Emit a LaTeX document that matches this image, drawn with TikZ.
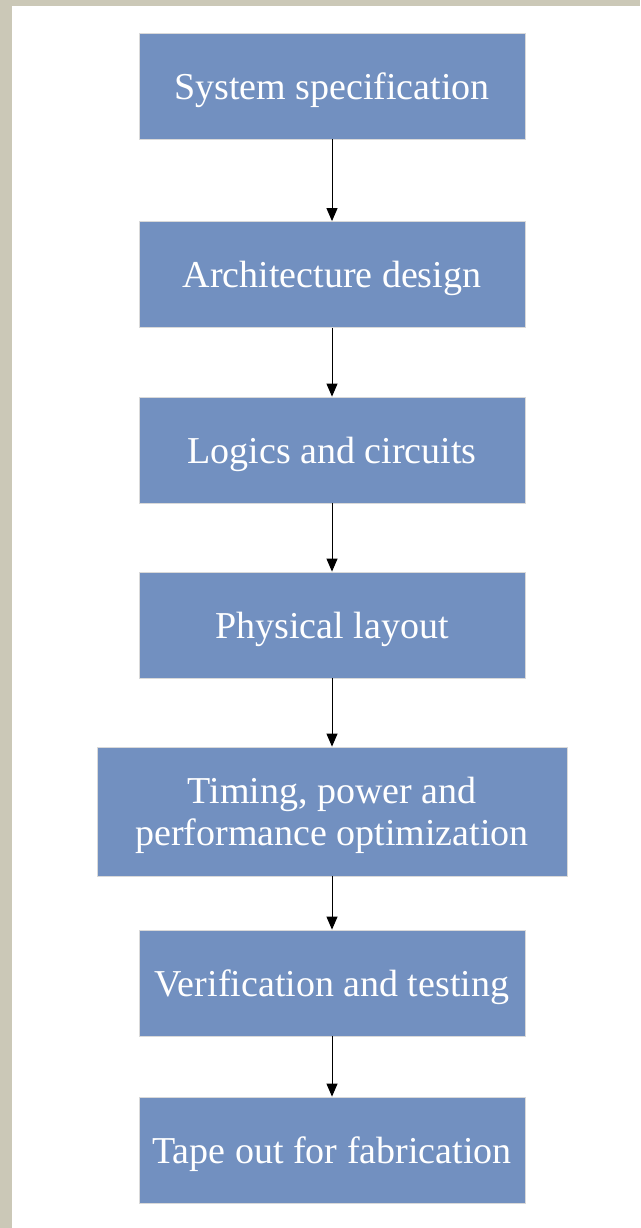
\documentclass[tikz,border=0pt]{standalone}
\usepackage{fontspec}
\setmainfont{Liberation Serif}
\usepackage{xcolor}
\usepackage{tikz}
\usetikzlibrary{positioning,arrows.meta}

\definecolor{stageblue}{HTML}{7290C0}
\definecolor{pageframe}{HTML}{CBC8B7}

\begin{document}
\begin{tikzpicture}[x=1pt, y=-1pt,
		stage/.style={draw=black!15, line width=0.8pt, fill=stageblue, text=white, minimum width=386pt, minimum height=106pt, inner sep=0pt, text depth=0pt, align=center, font=\fontsize{38}{42}\selectfont},
		arr/.style={-{Triangle[width=11pt, length=13pt]}, line width=1pt}
		]
		
		% ==========================================
		% Page frame
		% ==========================================
		\fill[pageframe] (0,0) rectangle (640,1228);
		\fill[white] (12,6) rectangle (640,1228);
		\useasboundingbox (0,0) rectangle (640,1228);
		
		% ==========================================
		% Design flow stages
		% ==========================================
		\node[stage] (spec) at (332,86) {System specification};
		\node[stage] (arch) at (332,274.5) {Architecture design};
		\node[stage] (logic) at (332,450) {Logics and circuits};
		\node[stage] (layout) at (332,625) {Physical layout};
		\node[stage, minimum width=470pt, minimum height=129pt] (optim) at (332,811.5) {Timing, power and\\performance optimization};
		\node[stage] (verif) at (332,983) {Verification and testing};
		\node[stage] (tapeout) at (332,1150) {Tape out for fabrication};
		
		% -- arrows between stages --
		\draw[arr] (spec) -- (arch);
		\draw[arr] (arch) -- (logic);
		\draw[arr] (logic) -- (layout);
		\draw[arr] (layout) -- (optim);
		\draw[arr] (optim) -- (verif);
		\draw[arr] (verif) -- (tapeout);
		
\end{tikzpicture}
\end{document}
